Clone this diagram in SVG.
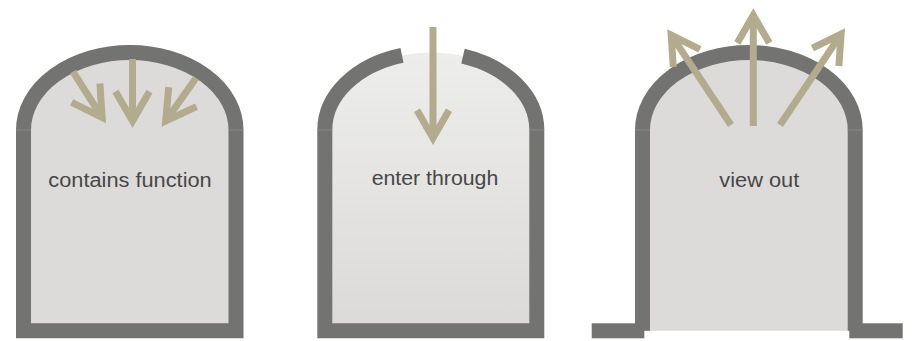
<svg xmlns="http://www.w3.org/2000/svg" width="913" height="341" viewBox="0 0 913 341">
  <defs>
    <linearGradient id="g2" x1="0" y1="52" x2="0" y2="331" gradientUnits="userSpaceOnUse">
      <stop offset="0" stop-color="#ededec"/>
      <stop offset="1" stop-color="#dbdad9"/>
    </linearGradient>
  </defs>
  <style>
    .fill { fill: #dcdbda; stroke: none; }
    .wall { fill: none; stroke: #737371; stroke-width: 15; stroke-linejoin: miter; stroke-linecap: butt; stroke-miterlimit: 10; }
    .foot { fill: #737371; }
    .seam { stroke: #8f8f8d; stroke-width: 0.8; }
    .arrow { fill: none; stroke: #b3ab8e; stroke-width: 7; stroke-linejoin: miter; stroke-linecap: butt; stroke-miterlimit: 10; }
    .label { font-family: "Liberation Sans", Arial, sans-serif; font-size: 20px; fill: #474747; }
  </style>
  <rect width="913" height="341" fill="#ffffff"/>

  <g id="node-contains">
    <path class="fill" d="M23.5,330.8 V130 A106.25,77.5 0 0 1 236,130 V330.8 Z"/>
    <path class="wall" d="M23.5,330.8 V130 A106.25,77.5 0 0 1 236,130 V330.8 Z"/>
    <line class="seam" x1="16" y1="130" x2="31" y2="130"/>
    <line class="seam" x1="228.5" y1="130" x2="243.5" y2="130"/>
    <line class="arrow" x1="132.5" y1="59" x2="132.5" y2="121"/>
    <polyline class="arrow" points="115.5,91.6 132.5,121 149.5,91.6"/>
    <line class="arrow" x1="73" y1="71.7" x2="102.1" y2="117.5"/>
    <polyline class="arrow" points="99.9,83.6 102.1,117.5 71.6,102.4"/>
    <line class="arrow" x1="196" y1="78" x2="165.7" y2="121"/>
    <polyline class="arrow" points="168.7,87.1 165.7,121 196.5,106.6"/>
    <text class="label" x="48.3" y="187.3" textLength="163.4" lengthAdjust="spacingAndGlyphs">contains function</text>
  </g>

  <g id="node-enter">
    <path d="M324.8,330.8 V130 A106,77.5 0 0 1 536.8,130 V330.8 Z" fill="url(#g2)"/>
    <path class="wall" d="M402,55.41 A106,77.5 0 0 0 324.8,130 V330.8 H536.8 V130 A106,77.5 0 0 0 463,56.16"/>
    <line class="seam" x1="317.3" y1="130" x2="332.3" y2="130"/>
    <line class="seam" x1="529.3" y1="130" x2="544.3" y2="130"/>
    <line class="arrow" x1="433" y1="27" x2="433" y2="138"/>
    <polyline class="arrow" points="417,110.3 433,138 449,110.3"/>
    <text class="label" x="371.7" y="185" textLength="126.6" lengthAdjust="spacingAndGlyphs">enter through</text>
  </g>

  <g id="node-view">
    <path class="fill" d="M642.5,330.7 V130 A106.35,77.5 0 0 1 855.2,130 V330.7 Z"/>
    <path class="wall" d="M642.5,330.7 V130 A106.35,77.5 0 0 1 855.2,130 V330.7"/>
    <rect class="foot" x="591.7" y="323.3" width="52.6" height="15"/>
    <rect class="foot" x="849.3" y="323.3" width="53.4" height="15"/>
    <line class="seam" x1="635" y1="130" x2="650" y2="130"/>
    <line class="seam" x1="847.7" y1="130" x2="862.7" y2="130"/>
    <line class="arrow" x1="753.3" y1="126" x2="753.3" y2="15.3"/>
    <polyline class="arrow" points="737.3,43 753.3,15.3 769.3,43"/>
    <line class="arrow" x1="731" y1="125" x2="671.2" y2="35.1"/>
    <polyline class="arrow" points="699.9,49.3 671.2,35.1 673.3,67"/>
    <line class="arrow" x1="780" y1="125" x2="841.1" y2="34.1"/>
    <polyline class="arrow" points="838.9,66 841.1,34.1 812.4,48.2"/>
    <text class="label" x="719.3" y="186.7" textLength="80" lengthAdjust="spacingAndGlyphs">view out</text>
  </g>

  <g id="connectors"/>
</svg>
